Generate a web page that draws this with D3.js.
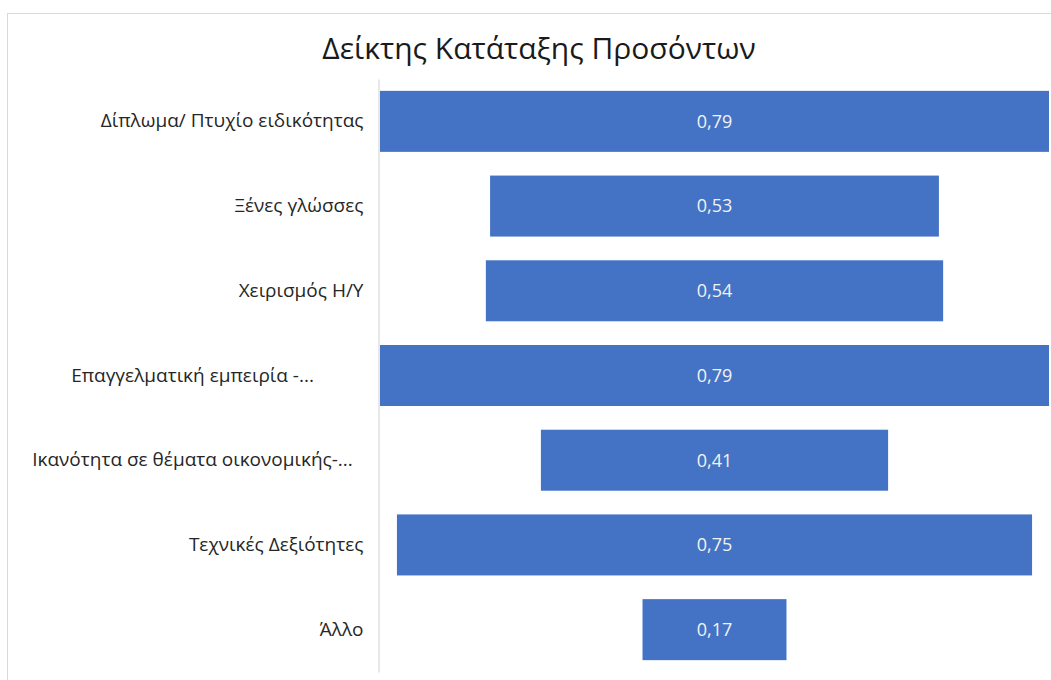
<!DOCTYPE html>
<head>
  <meta charset="utf-8">
  <script src="https://d3js.org/d3.v7.min.js"></script>
  <style>
    body { margin: 0; background: #fff; }
    text { font-family: "Open Sans", "Noto Sans", sans-serif; }
  </style>
</head>
<body>
  <div id="graph"></div>
  <script>
    // data
    var categories = [
      "Δίπλωμα/ Πτυχίο ειδικότητας",
      "Ξένες γλώσσες",
      "Χειρισμός Η/Υ",
      "Επαγγελματική εμπειρία -...",
      "Ικανότητα σε θέματα οικονομικής-...",
      "Τεχνικές Δεξιότητες",
      "Άλλο"
    ];
    var values = [0.79, 0.53, 0.54, 0.79, 0.41, 0.75, 0.17];
    var title = "Δείκτης Κατάταξης Προσόντων";

    var width = 1051;
    var height = 680;
    var svg = d3.select("#graph").append("svg")
      .attr("width", width)
      .attr("height", height);

    // chart frame
    svg.append("rect")
      .attr("x", 7.5).attr("y", 13.5)
      .attr("width", width + 10).attr("height", height + 10)
      .attr("fill", "#fff")
      .attr("stroke", "#d9d9d9")
      .attr("stroke-width", 1);

    svg.append("text")
      .attr("x", 539).attr("y", 59)
      .attr("text-anchor", "middle")
      .attr("font-size", 30)
      .attr("fill", "#1a1a1a")
      .text(title);

    var maxV = d3.max(values);
    // funnel: bars centered, width proportional to value
    var x = d3.scaleLinear()
      .domain([-maxV / 2, maxV / 2])
      .range([380, 1049]);

    var y = d3.scaleBand()
      .domain(categories)
      .range([79, 672])
      .paddingInner(0.28)
      .paddingOuter(0.14);

    // category axis
    var yAxis = d3.axisLeft(y).tickSize(0).tickPadding(15);
    var gy = svg.append("g")
      .attr("transform", "translate(378.5,0)")
      .call(yAxis);
    gy.select(".domain").attr("stroke", "#d0d0d0");
    gy.selectAll("text")
      .attr("font-size", 19)
      .attr("fill", "#262626")
      .attr("font-family", "\"Open Sans\", \"Noto Sans\", sans-serif");
    // truncated labels sit centred in the label box, like Excel does
    gy.selectAll("text")
      .filter(d => d.endsWith("..."))
      .attr("text-anchor", "middle")
      .attr("x", -186);

    svg.selectAll(".bar").data(values).enter()
      .append("rect")
      .attr("class", "bar")
      .attr("x", d => x(-d / 2))
      .attr("y", (d, i) => y(categories[i]))
      .attr("width", d => x(d / 2) - x(-d / 2))
      .attr("height", y.bandwidth())
      .attr("fill", "#4472c4");

    svg.selectAll(".lbl").data(values).enter()
      .append("text")
      .attr("class", "lbl")
      .attr("x", x(0))
      .attr("y", (d, i) => y(categories[i]) + y.bandwidth() / 2)
      .attr("dy", "0.35em")
      .attr("text-anchor", "middle")
      .attr("font-size", 18)
      .attr("fill", "#f2f2f2")
      .text(d => d3.format(".2f")(d).replace(".", ","));
  </script>
</body>
